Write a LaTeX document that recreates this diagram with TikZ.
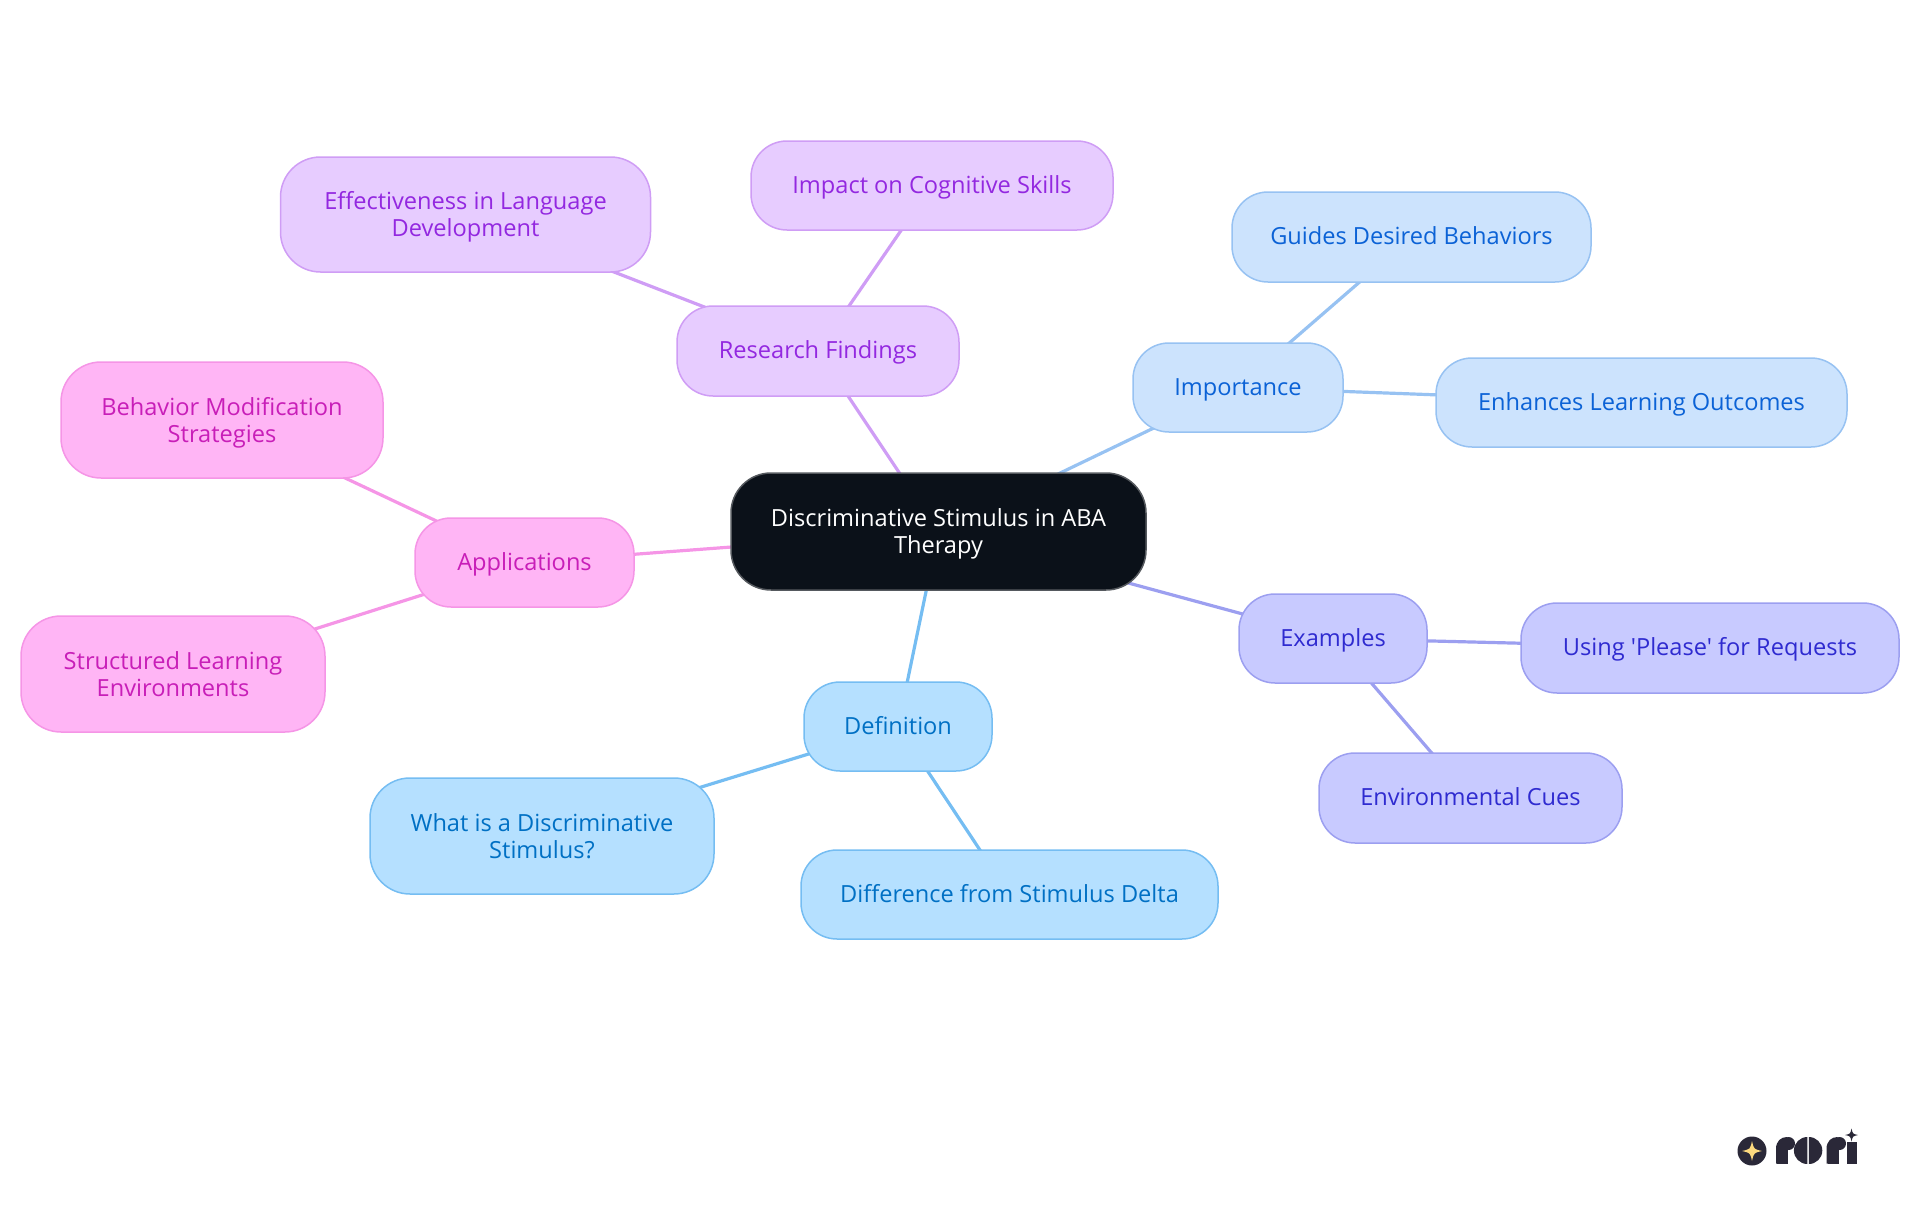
\documentclass[tikz,border=0pt]{standalone}
\usepackage{fontspec}
\newfontfamily\diagfont{Open Sans}
\usetikzlibrary{backgrounds}
\definecolor{rootfill}{HTML}{0B1119}\definecolor{rootline}{HTML}{55595E}
\definecolor{dfill}{HTML}{B5E0FF}\definecolor{dline}{HTML}{75BDF2}\definecolor{dtext}{HTML}{0070C4}
\definecolor{ifill}{HTML}{CCE3FD}\definecolor{iline}{HTML}{97C2F2}\definecolor{itext}{HTML}{0B62D6}
\definecolor{efill}{HTML}{C8CAFF}\definecolor{eline}{HTML}{9C9FF0}\definecolor{etext}{HTML}{2F2BD0}
\definecolor{rfill}{HTML}{E7CCFF}\definecolor{rline}{HTML}{CF9DF5}\definecolor{rtext}{HTML}{9328E0}
\definecolor{afill}{HTML}{FFB5F5}\definecolor{aline}{HTML}{F595E6}\definecolor{atext}{HTML}{C81EB8}
\definecolor{logodark}{HTML}{2A2838}\definecolor{logostar}{HTML}{FCD97E}
\tikzset{
  box/.style n args={2}{rounded corners=36pt,line width=1.5pt,align=center,inner sep=0pt,
     minimum width=#1,minimum height=#2,font=\diagfont\fontsize{23.6}{27}\selectfont,
     execute at begin node={\rule[-8pt]{0pt}{31pt}},
     execute at end node={\rule[-8pt]{0pt}{8pt}}},
  twoline/.style={rounded corners=40pt,execute at begin node={\rule[-8pt]{0pt}{60pt}}},
  rootbox/.style={box={415pt}{117pt},twoline,fill=rootfill,draw=rootline,text=white},
  dbox/.style={fill=dfill,draw=dline,text=dtext},
  ibox/.style={fill=ifill,draw=iline,text=itext},
  ebox/.style={fill=efill,draw=eline,text=etext},
  rbox/.style={fill=rfill,draw=rline,text=rtext},
  abox/.style={fill=afill,draw=aline,text=atext},
  link/.style={line width=3.2pt},
  logoshape/.style={fill=logodark,draw=none},
}
\newcommand{\fourstar}[4]{\fill[#4] (#1+#3,#2) .. controls (#1+0.18*#3,#2+0.18*#3) .. (#1,#2+#3) .. controls (#1-0.18*#3,#2+0.18*#3) .. (#1-#3,#2) .. controls (#1-0.18*#3,#2-0.18*#3) .. (#1,#2-#3) .. controls (#1+0.18*#3,#2-0.18*#3) .. cycle;}
\begin{document}
\begin{tikzpicture}[x=1pt,y=-1pt]
\useasboundingbox (0,0) rectangle (1920,1215);
\node[rootbox] (root) at (938.5,531.5) {Discriminative Stimulus in ABA\\Therapy};
\node[ibox,box={210pt}{89pt}] (imp) at (1238,387.5) {Importance};
\node[ibox,box={359pt}{90pt}] (gui) at (1411.5,237) {Guides Desired Behaviors};
\node[ibox,box={411pt}{89pt}] (enh) at (1641.5,402.5) {Enhances Learning Outcomes};
\node[ebox,box={188pt}{89pt}] (exa) at (1333,638.5) {Examples};
\node[ebox,box={378pt}{90pt}] (usi) at (1710,648) {Using 'Please' for Requests};
\node[ebox,box={303pt}{90pt}] (env) at (1470.5,798) {Environmental Cues};
\node[dbox,box={188pt}{89pt}] (def) at (898,726.5) {Definition};
\node[dbox,box={344pt}{116pt},twoline] (wha) at (542,836) {What is a Discriminative\\Stimulus?};
\node[dbox,box={417pt}{89pt}] (dif) at (1009.5,894.5) {Difference from Stimulus Delta};
\node[abox,box={219pt}{89pt}] (app) at (524.5,562.5) {Applications};
\node[abox,box={322pt}{116pt},twoline] (beh) at (222,420) {Behavior Modification\\Strategies};
\node[abox,box={304pt}{116pt},twoline] (str) at (173,674) {Structured Learning\\Environments};
\node[rbox,box={282pt}{90pt}] (res) at (818,351) {Research Findings};
\node[rbox,box={370pt}{115pt},twoline] (eff) at (465.5,214.5) {Effectiveness in Language\\Development};
\node[rbox,box={362pt}{89pt}] (imc) at (932,185.5) {Impact on Cognitive Skills};
\begin{scope}[on background layer]
\draw[link,iline] (root.center) -- (imp.center);
\draw[link,iline] (imp.center) -- (gui.center);
\draw[link,iline] (imp.center) -- (enh.center);
\draw[link,eline] (root.center) -- (exa.center);
\draw[link,eline] (exa.center) -- (usi.center);
\draw[link,eline] (exa.center) -- (env.center);
\draw[link,dline] (root.center) -- (def.center);
\draw[link,dline] (def.center) -- (wha.center);
\draw[link,dline] (def.center) -- (dif.center);
\draw[link,aline] (root.center) -- (app.center);
\draw[link,aline] (app.center) -- (beh.center);
\draw[link,aline] (app.center) -- (str.center);
\draw[link,rline] (root.center) -- (res.center);
\draw[link,rline] (res.center) -- (eff.center);
\draw[link,rline] (res.center) -- (imc.center);
\end{scope}
% logo
\fill[logodark] (1752,1151) circle (14.5);
\fourstar{1752}{1151}{10}{logostar}
% r
\fill[logoshape] (1776,1163.5) -- (1776,1149) .. controls (1776,1141) and (1781,1137) .. (1787,1137) -- (1787,1163.5) -- cycle;
\fill[logoshape] (1788.5,1143.5) circle (6.5);
\fill[logoshape] (1777,1163.5) rectangle (1788,1146);
% o
\fill[logoshape] (1807.4,1164) arc (90:270:13.5) -- cycle;
\fill[logoshape] (1808.8,1164) arc (90:-90:13.5) -- cycle;
% r
\fill[logoshape] (1826.5,1163.5) -- (1826.5,1149) .. controls (1826.5,1141) and (1831.5,1137) .. (1837.5,1137) -- (1837.5,1163.5) -- cycle;
\fill[logoshape] (1839.5,1143.5) circle (6.5);
\fill[logoshape] (1827.5,1163.5) rectangle (1838.5,1146);
% i
\fill[logoshape] (1846.5,1142) rectangle (1856.5,1163.5);
\fourstar{1851.5}{1135}{6.5}{logodark}
\end{tikzpicture}
\end{document}
